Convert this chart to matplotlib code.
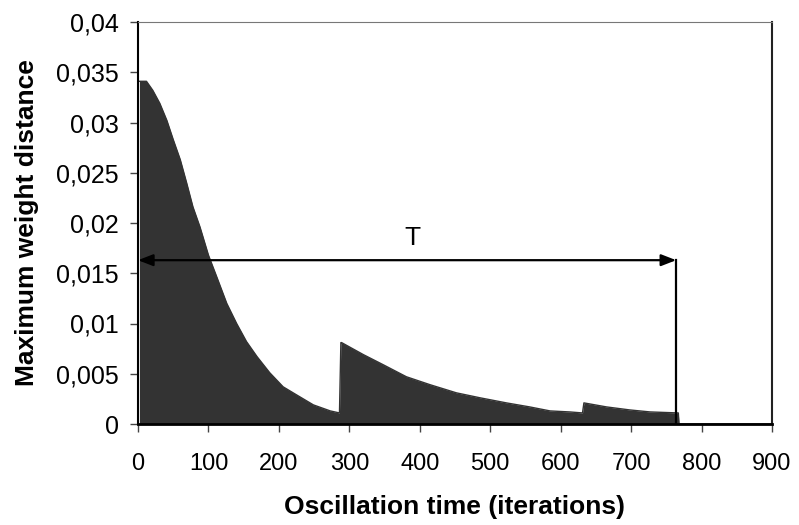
import matplotlib
matplotlib.use("Agg")
import matplotlib.pyplot as plt

plt.rcParams['font.family'] = ['Liberation Sans', 'DejaVu Sans']

# Envelope of the oscillating weight distance
iterations = [2, 3, 12, 21, 31, 41, 50, 60, 69, 78, 88, 100, 112, 126, 140,
              154, 169, 187, 206, 225, 249, 273, 286, 288, 289, 320, 348, 381,
              415, 452, 486, 523, 556, 585, 613, 631, 633, 665, 698, 727, 767,
              768, 900]
distance = [0.0341, 0.0341, 0.0341, 0.0332, 0.0319, 0.0302, 0.0283, 0.0263,
            0.0240, 0.0216, 0.0196, 0.0168, 0.0146, 0.0120, 0.0100, 0.0082,
            0.0067, 0.0051, 0.0037, 0.0029, 0.0019, 0.0013, 0.0011, 0.0081,
            0.0081, 0.0069, 0.0059, 0.0047, 0.0039, 0.0031, 0.0026, 0.0021,
            0.0017, 0.0013, 0.0012, 0.0011, 0.0021, 0.0017, 0.0014, 0.0012,
            0.0011, 0.0, 0.0]

period_end = 764
period_level = 0.0163

x_ticks = [0, 100, 200, 300, 400, 500, 600, 700, 800, 900]
y_ticks = [0, 0.005, 0.01, 0.015, 0.02, 0.025, 0.03, 0.035, 0.04]
y_tick_labels = ['0', '0,005', '0,01', '0,015', '0,02', '0,025', '0,03',
                 '0,035', '0,04']

fig = plt.figure(figsize=(7.99, 5.25), dpi=100)
ax = fig.add_axes([138 / 799, 101 / 525, 634 / 799, 402 / 525])

ax.fill_between(iterations, distance, 0, color='#333333', linewidth=0)
ax.plot(iterations, distance, color='#333333', linewidth=1)

# period arrow T
ax.annotate('', xy=(0, period_level), xytext=(period_end, period_level),
            arrowprops=dict(arrowstyle='<|-|>,head_length=0.9,head_width=0.35',
                            color='black', lw=1.6, shrinkA=0, shrinkB=0))
ax.plot([period_end, period_end], [0, period_level], color='black', lw=1.6)
ax.text(389, 0.0185, 'T', ha='center', va='center', fontsize=19)

ax.set_xlim(0, 900)
ax.set_ylim(0, 0.04)
ax.set_xticks(x_ticks)
ax.set_yticks(y_ticks)
ax.set_yticklabels(y_tick_labels)
ax.tick_params(axis='x', direction='out', length=6, width=1, pad=15,
               labelsize=17, color='#444444')
ax.tick_params(axis='y', direction='out', length=6, width=1, pad=8,
               labelsize=18, color='#444444')

ax.spines['left'].set_linewidth(1.5)
ax.spines['bottom'].set_linewidth(2)
ax.spines['top'].set_color('#777777')
ax.spines['right'].set_color('#222222')
ax.spines['right'].set_linewidth(1.5)

ax.set_xlabel('Oscillation time (iterations)', fontsize=19, fontweight='bold',
              labelpad=14)
ax.set_ylabel('Maximum weight distance', fontsize=19, fontweight='bold',
              labelpad=12)

fig.savefig('out.png', dpi=100)
